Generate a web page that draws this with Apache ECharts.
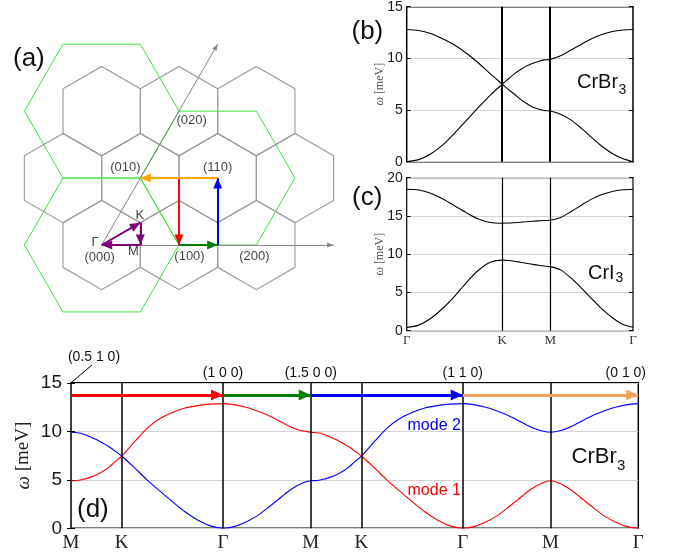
<!DOCTYPE html>
<html><head><meta charset="utf-8">
<script src="https://cdn.jsdelivr.net/npm/echarts@6/dist/echarts.min.js"></script>
<style>html,body{margin:0;padding:0;background:#fff}#c{width:685px;height:557px}</style>
</head><body><div id="c"></div><script>
// ================= DATA =================
// (a) reciprocal lattice: Brillouin-zone centres (h,k) and extended zones
const zoneCenters = [[0,0],[1,0],[2,0],[-1,1],[0,1],[1,1],[2,1],[-1,2],[0,2],[1,2]];
const bigZoneCenters = [[0,0],[1,1],[-1,2]];
const latticeLabelText = ['(000)','Γ','M','K','(100)','(200)','(010)','(110)','(020)'];
const latticeLabelHK = [[0,0],[0,0],[0.5,0],[1/3,1/3],[1,0],[2,0],[0,1],[1,1],[0,2]];
const axisEndsHK = [[3,0],[0,3]];
const pathArrowsHK = [
  [[0,0],[1/3,1/3]], [[1/3,1/3],[0.5,0]], [[0.5,0],[0,0]],
  [[0.5,1],[1,0]], [[1,0],[1.5,0]], [[1.5,0],[1,1]], [[1,1],[0,1]]
];
// (b),(c) path Γ-K-M-Γ
const bcPathLabels = ['Γ','K','M','Γ'];
const bcSegLen = [1.333, 0.667, 1.155];
const bYTicks = [0,5,10,15];
const cYTicks = [0,5,10,15,20];
// (b) CrBr3 branches, 9 samples per segment
const bUpGK = [12.8, 12.7, 12.4, 11.9, 11.3, 10.5, 9.55, 8.5, 7.5];
const bLoGK = [0, 0.2, 0.75, 1.6, 2.75, 4.0, 5.25, 6.45, 7.5];
const bUpKM = [7.5, 8.0, 8.5, 8.9, 9.25, 9.5, 9.7, 9.85, 9.9];
const bLoKM = [7.5, 7.0, 6.55, 6.05, 5.65, 5.3, 5.1, 4.95, 4.9];
const bUpMG = [9.9, 10.25, 10.8, 11.35, 11.9, 12.3, 12.6, 12.75, 12.8];
const bLoMG = [4.9, 4.6, 4.05, 3.25, 2.35, 1.5, 0.8, 0.3, 0];
// (c) CrI3 branches
const cUpGK = [18.5, 18.4, 17.97, 17.24, 16.34, 15.4, 14.6, 14.14, 14.05];
const cLoGK = [0.43, 0.73, 1.6, 2.9, 4.5, 6.3, 7.9, 8.95, 9.22];
const cUpKM = [14.05, 14.07, 14.12, 14.18, 14.24, 14.3, 14.35, 14.4, 14.43];
const cLoKM = [9.22, 9.18, 9.08, 8.95, 8.82, 8.68, 8.55, 8.45, 8.38];
const cUpMG = [14.43, 14.8, 15.55, 16.4, 17.2, 17.8, 18.2, 18.42, 18.5];
const cLoMG = [8.38, 7.95, 6.9, 5.6, 4.2, 2.85, 1.7, 0.85, 0.45];
// (d) path M-K-Γ-M-K-Γ-M-Γ
const dPathLabels = ['M','K','Γ','M','K','Γ','M','Γ'];
const dPathMiller = ['(0.5 1 0)','','(1 0 0)','(1.5 0 0)','','(1 1 0)','','(0 1 0)'];
const dSegLen = [0.667, 1.333, 1.155, 0.667, 1.333, 1.155, 1.155];
const dYTicks = [0,5,10,15];
const dArrowLevel = 13.75;
// (d) CrBr3 branches
const dUpKM = [7.45, 7.95, 8.4, 8.8, 9.15, 9.45, 9.7, 9.85, 9.9];
const dLoKM = [7.45, 6.9, 6.3, 5.85, 5.5, 5.25, 5.05, 4.93, 4.9];
const dUpKG = [7.45, 8.9, 10.3, 11.3, 11.95, 12.4, 12.65, 12.8, 12.85];
const dLoKG = [7.45, 6.25, 5.0, 3.85, 2.75, 1.7, 0.85, 0.25, 0];
const dUpGM = [12.85, 12.75, 12.5, 12.15, 11.7, 11.15, 10.55, 10.1, 9.9];
const dLoGM = [0, 0.17, 0.6, 1.2, 2.03, 2.93, 3.85, 4.55, 4.9];

// ================= HELPERS =================
const SANS = '"Liberation Sans", Arial, sans-serif';
const SERIF = '"Liberation Serif", "Times New Roman", serif';
const HEAD = 'path://M0,0M0,10L5,20L-5,20Z';
const SQ3 = Math.sqrt(3);
const rev = a => a.slice().reverse();
function cart(p){ return [p[0] + 0.5*p[1], p[1]*SQ3/2]; }
function hexRing(center, radius, startDeg){
  const c = cart(center), pts = [];
  for (let i = 0; i <= 6; i++) {
    const a = (startDeg + 60*i) * Math.PI / 180;
    pts.push([c[0] + radius*Math.cos(a), c[1] + radius*Math.sin(a)]);
  }
  return pts;
}
function pathPos(segLen){ const p=[0]; segLen.forEach(l=>p.push(p[p.length-1]+l)); return p; }
function buildCurve(segs, segLen){
  const pos = pathPos(segLen), out = [];
  segs.forEach((vals, s) => vals.forEach((v, i) => {
    if (s > 0 && i === 0) return;
    out.push([pos[s] + segLen[s]*i/(vals.length-1), v]);
  }));
  return out;
}
function labelAt(vals, labels){
  return v => { const i = vals.findIndex(p => Math.abs(p - v) < 1e-6); return i < 0 ? '' : labels[i]; };
}
const bcPos = pathPos(bcSegLen);
const dPos = pathPos(dSegLen);
const bcMax = bcPos[bcPos.length-1], dMax = dPos[dPos.length-1];

function yAxisPair(grid, ticks, opt){
  const common = {type:'value', gridIndex:grid, min:ticks[0], max:ticks[ticks.length-1],
    interval:ticks[1]-ticks[0]};
  return [
    Object.assign({}, common, {
      position:'left', axisLine:{show:false},
      axisTick:{show:true, inside:true, length:4, lineStyle:{color:'#000', width:1}},
      axisLabel:{fontFamily:SANS, fontSize:opt.fs, color:'#1a1a1a', margin:opt.margin},
      splitLine:{show:true, lineStyle:{color:'#d2d2d2', width:1}},
      name:'{w|ω} [meV]', nameLocation:'middle', nameGap:opt.nameGap, nameMoveOverlap:false,
      nameTextStyle:{fontFamily:SERIF, fontSize:opt.nfs, color:opt.nc,
        rich:{w:{fontFamily:SERIF, fontSize:opt.nfs, color:opt.nc, fontStyle:'italic'}}}
    }),
    Object.assign({}, common, {
      position:'right', axisLine:{show:false}, axisLabel:{show:false}, splitLine:{show:false},
      axisTick:{show:true, inside:true, length:4, lineStyle:{color:'#000', width:1}}
    })
  ];
}
function vLines(pos, width){
  return {silent:true, symbol:['none','none'], label:{show:false}, animation:false,
    lineStyle:{color:'#000', width:width, type:'solid'}, emphasis:{disabled:true},
    data: pos.slice(1,-1).map(v => ({xAxis:v}))};
}
function curve(name, data, xi, yi, color, extra){
  return Object.assign({type:'line', name, xAxisIndex:xi, yAxisIndex:yi, data, showSymbol:false,
    symbol:'none', smooth:0.3, lineStyle:{color, width:1.1}, itemStyle:{color}, z:3, silent:true}, extra||{});
}
function arrowSeries(coords, color, width, head, xi, yi, z){
  return {type:'lines', coordinateSystem:'cartesian2d', xAxisIndex:xi, yAxisIndex:yi, silent:true,
    symbol:['none', HEAD], symbolSize:[0, head], z:z,
    lineStyle:{color, width, opacity:1, curveness:0}, data:[{coords}]};
}

// ================= OPTION =================
const grids = [
  {left:8.9, top:13.1, width:340.2, height:309.2},
  {left:406.7, top:6.7, width:226.3, height:155, show:true, borderColor:'#000', borderWidth:1.5},
  {left:406.7, top:177.7, width:226.3, height:153, show:true, borderColor:'#000', borderWidth:1.2},
  {left:71, top:382.8, width:567.3, height:145.5, show:true, borderColor:'#000', borderWidth:1.5}
].map(g => Object.assign({containLabel:false, outerBoundsMode:'none', backgroundColor:'transparent'}, g));

const xAxes = [
  {type:'value', gridIndex:0, min:-1.2, max:3.2, show:false},
  {type:'value', gridIndex:1, min:0, max:bcMax, axisLine:{show:false}, axisTick:{show:false},
    axisLabel:{show:false}, splitLine:{show:false}},
  {type:'value', gridIndex:2, min:0, max:bcMax, axisLine:{show:false}, axisTick:{show:false},
    splitLine:{show:false},
    axisLabel:{customValues:bcPos, formatter:labelAt(bcPos, bcPathLabels), fontFamily:SERIF,
      fontSize:13, color:'#333', margin:3}},
  {type:'value', gridIndex:3, min:0, max:dMax, axisLine:{show:false}, axisTick:{show:false},
    splitLine:{show:false},
    axisLabel:{customValues:dPos, formatter:labelAt(dPos, dPathLabels), fontFamily:SERIF,
      fontSize:19, color:'#222', margin:5}}
];
// top Miller-index labels of (d)
const dTopVals = [], dTopText = [];
dPathMiller.forEach((m, i) => { if (m && i > 0) { dTopVals.push(dPos[i]); dTopText.push(m); } });
xAxes.push({type:'value', gridIndex:3, position:'top', min:0, max:dMax, axisLine:{show:false},
  axisTick:{show:false}, splitLine:{show:false},
  axisLabel:{customValues:dTopVals, margin:3, fontFamily:SANS, fontSize:14, color:'#111',
    formatter: v => { const t = labelAt(dTopVals, dTopText)(v);
      return Math.abs(v - dMax) < 1e-6 ? '{e|' + t + '}' : t; },
    rich:{e:{fontFamily:SANS, fontSize:14, color:'#111', padding:[0,25,0,0]}}}});

const yAxes = [{type:'value', gridIndex:0, min:-1, max:3, show:false}]
  .concat(yAxisPair(1, bYTicks, {fs:14, margin:4, nameGap:21, nfs:12, nc:'#555'}))
  .concat(yAxisPair(2, cYTicks, {fs:14, margin:4, nameGap:21, nfs:12, nc:'#555'}))
  .concat(yAxisPair(3, dYTicks, {fs:19, margin:9, nameGap:38, nfs:19, nc:'#222'}));

const series = [];
// ---- (a)
series.push({type:'lines', coordinateSystem:'cartesian2d', xAxisIndex:0, yAxisIndex:0, polyline:true,
  silent:true, z:2, lineStyle:{color:'#999', width:1.1, opacity:1},
  data: zoneCenters.map(c => ({coords: hexRing(c, 1/SQ3, 30)}))});
series.push({type:'lines', coordinateSystem:'cartesian2d', xAxisIndex:0, yAxisIndex:0, polyline:true,
  silent:true, z:3, lineStyle:{color:'#3fe03f', width:1, opacity:1},
  data: bigZoneCenters.map(c => ({coords: hexRing(c, 1, 0)}))});
axisEndsHK.forEach(e => series.push(arrowSeries([cart([0,0]), cart(e)], '#888', 1, [5,13], 0, 0, 4)));
const aArrowColors = ['#800080','#800080','#800080','#ff0000','#008000','#0000ff','#ffa500'];
pathArrowsHK.forEach((seg, i) => series.push(
  arrowSeries([cart(seg[0]), cart(seg[1])], aArrowColors[i], 2, [9,21], 0, 0, 6)));
const aLabelOffsets = [[-2,12],[-6.5,-2.5],[-7,6.3],[-0.5,-7.7],[10.5,11.2],[-2,11.2],[-15,-10.3],[0,-10.3],[12.7,9.3]];
series.push({type:'scatter', xAxisIndex:0, yAxisIndex:0, symbolSize:0, silent:true, z:8,
  data: latticeLabelText.map((t, i) => ({name:t, value:cart(latticeLabelHK[i]),
    label:{show:true, position:'inside', formatter:'{b}', offset:aLabelOffsets[i],
      fontFamily:SANS, fontSize:13, color:'#111'}}))});
// ---- (b)
series.push(curve('b1', buildCurve([bUpGK, bLoKM, bLoMG], bcSegLen), 1, 1, '#000', {markLine:vLines(bcPos, 2)}));
series.push(curve('b2', buildCurve([bLoGK, bUpKM, bUpMG], bcSegLen), 1, 1, '#000'));
// ---- (c)
series.push(curve('c1', buildCurve([cUpGK, cUpKM, cUpMG], bcSegLen), 2, 3, '#000', {markLine:vLines(bcPos, 1.2)}));
series.push(curve('c2', buildCurve([cLoGK, cLoKM, cLoMG], bcSegLen), 2, 3, '#000'));
// ---- (d)
const mode1 = buildCurve([rev(dLoKM), dUpKG, dUpGM, rev(dUpKM), dLoKG, dLoGM, rev(dLoGM)], dSegLen);
const mode2 = buildCurve([rev(dUpKM), dLoKG, dLoGM, rev(dLoKM), dUpKG, dUpGM, rev(dUpGM)], dSegLen);
series.push(curve('mode 1', mode1, 3, 5, '#ff0000', {markLine:vLines(dPos, 1.5)}));
series.push(curve('mode 2', mode2, 3, 5, '#0000ff'));
const dArrowColors = ['#ff0000','#008000','#0000ff','#f8a055'];
const dArrowIdx = dPathMiller.map((m, i) => m ? i : -1).filter(i => i >= 0);
for (let j = 0; j < dArrowIdx.length - 1; j++) {
  series.push(arrowSeries([[dPos[dArrowIdx[j]], dArrowLevel], [dPos[dArrowIdx[j+1]], dArrowLevel]],
    dArrowColors[j], 3, [11,24], 3, 5, 7));
}

function txt(text, x, y, size, color, align, family){
  return {type:'text', x, y, z:100, silent:true, style:{text, fontSize:size, fontFamily:family||SANS,
    fill:color||'#111', align:align||'left', verticalAlign:'middle',
    textAlign:align||'left', textVerticalAlign:'middle'}};
}
const graphic = [
  txt('(a)', 13, 58.5, 26), txt('(b)', 351.5, 31.5, 26), txt('(c)', 352, 197.5, 26), txt('(d)', 77, 510, 26),
  txt('CrBr', 577, 82.5, 20), txt('3', 618.5, 90, 14),
  txt('CrI', 588, 273, 20), txt('3', 615.5, 278, 14),
  txt('CrBr', 571.5, 457, 22), txt('3', 617, 466, 15),
  txt('mode 2', 407.5, 426, 16, '#0000ff'), txt('mode 1', 407.5, 490.5, 16, '#ff0000'),
  txt(dPathMiller[0], 94, 356.7, 14, '#111', 'center'),
  {type:'line', z:100, silent:true, shape:{x1:71, y1:382.8, x2:92, y2:365}, style:{stroke:'#000', lineWidth:1}}
];

const chart = echarts.init(document.getElementById('c'), null, {renderer:'canvas', width:685, height:557});
chart.setOption({animation:false, backgroundColor:'#fff', grid:grids, xAxis:xAxes, yAxis:yAxes,
  series, graphic, tooltip:{show:false}});
</script></body></html>
